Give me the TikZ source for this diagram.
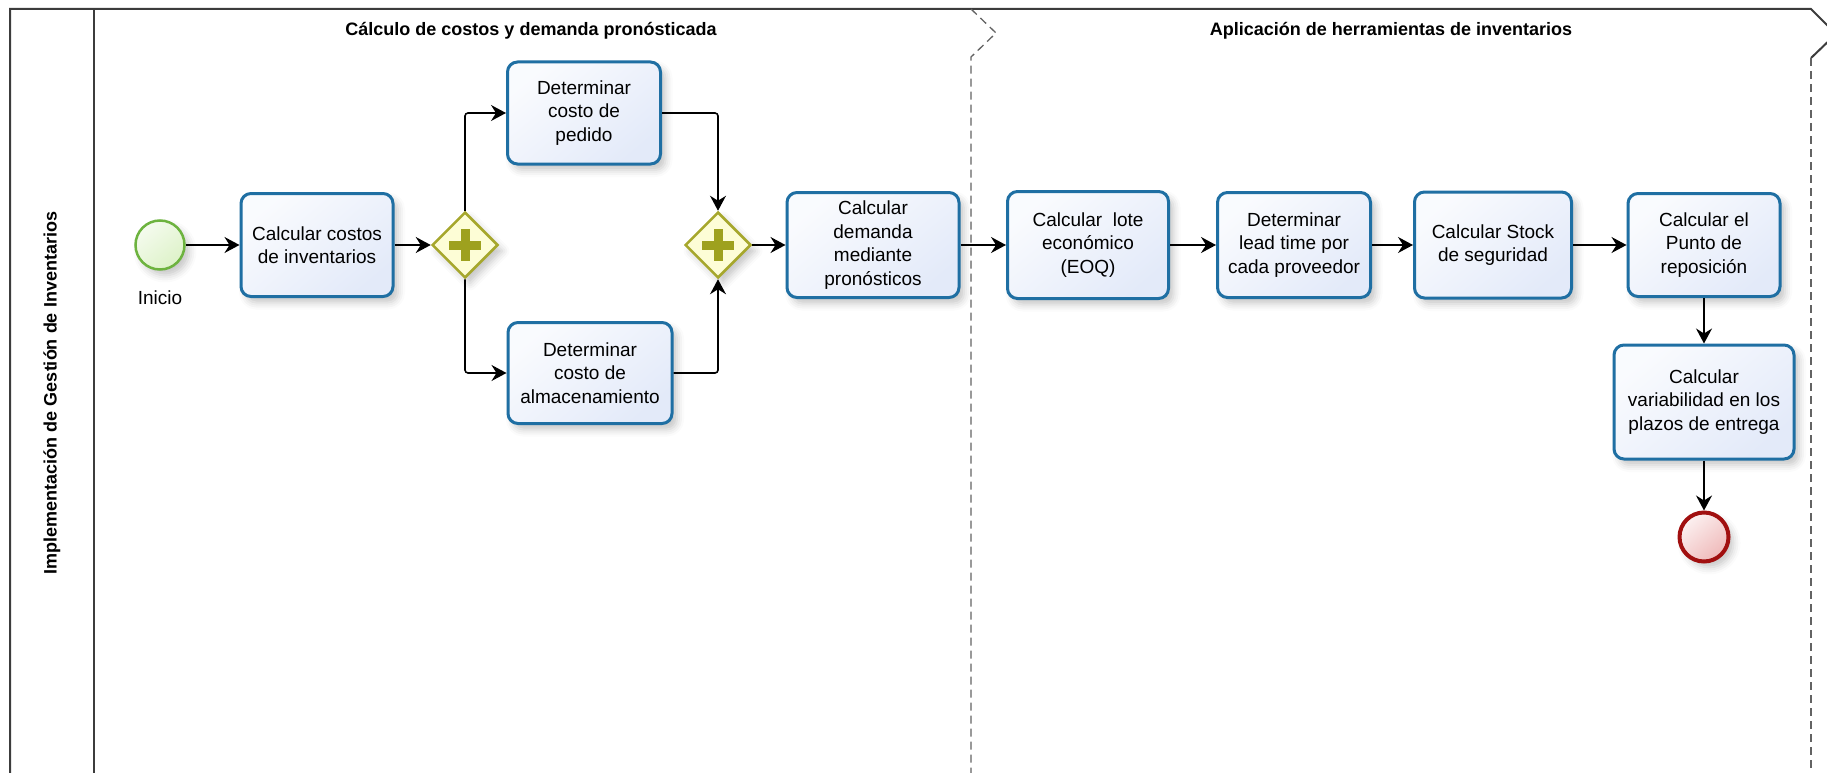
\documentclass[tikz,border=0pt]{standalone}
\usepackage{fontspec}
\setmainfont{Liberation Sans}
\usepackage{xcolor}
\definecolor{taskb}{HTML}{1F6FA3}
\definecolor{taskf}{HTML}{E3EAF9}
\definecolor{gwb}{HTML}{A6A72C}
\definecolor{gwf}{HTML}{FDFDD6}
\definecolor{gwp}{HTML}{9EA11E}
\definecolor{startb}{HTML}{6DB33F}
\definecolor{startf}{HTML}{DDF2C8}
\definecolor{endb}{HTML}{A10F0F}
\definecolor{endf}{HTML}{EFB9B9}
\definecolor{frame}{HTML}{3C3C3C}
\usetikzlibrary{shapes.geometric}
\usetikzlibrary{arrows.meta}
\usetikzlibrary{shadows.blur}
\usetikzlibrary{positioning}

\tikzset{
  soft/.style={blur shadow={shadow xshift=5pt,shadow yshift=-6pt,shadow blur radius=7pt,shadow opacity=22}},
  task/.style={soft,draw=taskb,line width=3pt,rounded corners=10pt,inner sep=0pt,align=center,
    top color=white!80!taskf,bottom color=taskf,shading angle=40,
    font=\fontsize{19}{23.5}\selectfont},
  gw/.style={soft,diamond,aspect=1,minimum width=66pt,minimum height=66pt,inner sep=0pt,
    draw=gwb,line width=2.5pt,fill=gwf,
    path picture={
      \fill[gwp] ([shift={(-16pt,-4.5pt)}]path picture bounding box.center) rectangle ++(32pt,9pt);
      \fill[gwp] ([shift={(-4.5pt,-16pt)}]path picture bounding box.center) rectangle ++(9pt,32pt);}},
  startev/.style={soft,circle,minimum size=49pt,inner sep=0pt,draw=startb,line width=2.5pt,
    top color=white!70!startf,bottom color=startf,shading angle=40},
  endev/.style={soft,circle,minimum size=49pt,inner sep=0pt,draw=endb,line width=4pt,
    top color=white!80!endf,bottom color=endf,shading angle=40},
  flow/.style={line width=1.6pt,rounded corners=3pt,-{Stealth[length=15pt,width=16pt,inset=5pt]}},
  lanesep/.style={draw=frame!80,line width=1.3pt,dash pattern=on 8pt off 5pt},
  title/.style={font=\bfseries\fontsize{18}{22}\selectfont}
}

\begin{document}
\begin{tikzpicture}[x=1pt,y=-1pt]
  \useasboundingbox (0,0) rectangle (1827,773);

  % pool and lanes
  \draw[frame,line width=2pt] (10,790) -- (10,9) -- (1811,9) -- (1836,34) -- (1811,58);
  \draw[frame,line width=2pt] (94,9) -- (94,790);
  \draw[lanesep] (1811,58) -- (1811,790);
  \draw[lanesep] (971,9) -- (996,33) -- (971,57) -- (971,790);
  \node[title,rotate=90] (pool) at (52,393) {Implementación de Gestión de Inventarios};
  \node[title] (lane1) at (531,31) {Cálculo de costos y demanda pronósticada};
  \node[title] (lane2) at (1391,31) {Aplicación de herramientas de inventarios};

  % first lane
  \node[startev] (ini) at (160,245) {};
  \node[font=\fontsize{19}{22}\selectfont] (inil) at (160,298) {Inicio};
  \node[task,minimum width=152pt,minimum height=103pt] (cc) at (317,245) {Calcular costos\\de inventarios};
  \node[gw] (g1) at (465,245) {};
  \node[task,minimum width=153pt,minimum height=102pt] (dp) at (584,113) {Determinar\\costo de\\pedido};
  \node[task,minimum width=164pt,minimum height=101pt] (da) at (590,373) {Determinar\\costo de\\almacenamiento};
  \node[gw] (g2) at (718,245) {};
  \node[task,minimum width=172pt,minimum height=105pt] (dm) at (873,245) {Calcular\\demanda\\mediante\\pronósticos};

  % second lane
  \node[task,minimum width=161pt,minimum height=107pt] (eoq) at (1088,245) {Calcular\ \ lote\\económico\\(EOQ)};
  \node[task,minimum width=153pt,minimum height=105pt] (lt) at (1294,245) {Determinar\\lead time por\\cada proveedor};
  \node[task,minimum width=157pt,minimum height=106pt] (ss) at (1493,245) {Calcular Stock\\de seguridad};
  \node[task,minimum width=152pt,minimum height=103pt] (rp) at (1704,245) {Calcular el\\Punto de\\reposición};
  \node[task,minimum width=180pt,minimum height=114pt] (var) at (1704,402) {Calcular\\variabilidad en los\\plazos de entrega};
  \node[endev] (fin) at (1704,537) {};

  \draw[flow] (ini) -- (cc);
  \draw[flow] (cc) -- (g1);
  \draw[flow] (g1.north) |- (dp.west);
  \draw[flow] (g1.south) |- (da.west);
  \draw[flow] (dp.east) -| (g2.north);
  \draw[flow] (da.east) -| (g2.south);
  \draw[flow] (g2) -- (dm);
  \draw[flow] (dm) -- (eoq);
  \draw[flow] (eoq) -- (lt);
  \draw[flow] (lt) -- (ss);
  \draw[flow] (ss) -- (rp);
  \draw[flow] (rp) -- (var);
  \draw[flow] (var) -- (fin);
\end{tikzpicture}
\end{document}
